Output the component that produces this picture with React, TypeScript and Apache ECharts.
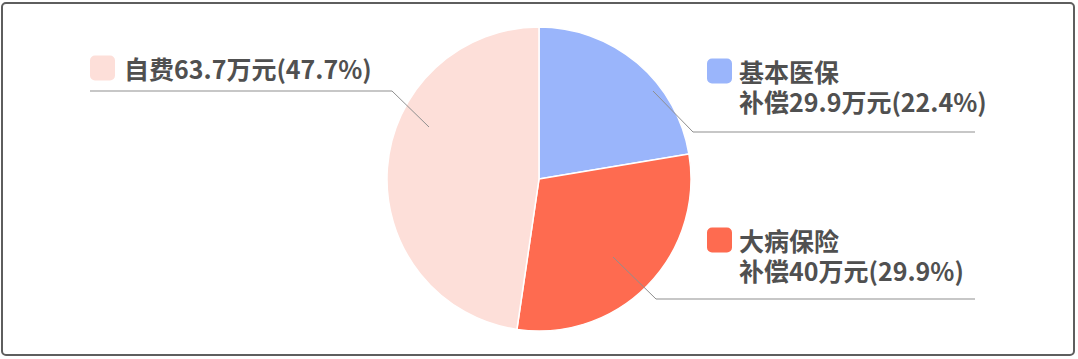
import React, { useEffect, useRef } from 'react';
import * as echarts from 'echarts';

const categories = ['基本医保', '大病保险', '自费'];
const amounts = [29.9, 40, 63.7]; // 万元
const percents = [22.4, 29.9, 47.7];
const colors = ['#9ab5fb', '#fe6b50', '#fddfd9'];

// label placement (top-left of label box) and leader-line points
const labelLayouts = [
  { x: 707, y: 56, gap: 7, line: [[653, 91], [693, 132], [975, 132]] },
  { x: 707, y: 225, gap: 7, line: [[613, 257], [656, 299], [975, 299]] },
  { x: 90, y: 53, gap: 9, line: [[429, 127], [392, 91], [90, 91]] },
];

const FONT = '"Noto Sans CJK SC", "Noto Sans", sans-serif';

export default function App() {
  const ref = useRef<HTMLDivElement>(null);
  useEffect(() => {
    if (!ref.current) return;
    const chart = echarts.init(ref.current, null, { renderer: 'svg' });
    const textStyle = {
      fontSize: 25,
      color: '#505050',
      fontWeight: 'bold',
      fontFamily: FONT,
      lineHeight: 30,
    };
    const data = categories.map((name, i) => {
      const lay = labelLayouts[i];
      const formatter =
        i < 2
          ? `{m|}{g|}{t|${name}}\n{s|}{t|补偿${amounts[i]}万元(${percents[i]}%)}`
          : `{m|}{g|}{t|${name}${amounts[i]}万元(${percents[i]}%)}`;
      return {
        name,
        value: amounts[i],
        itemStyle: { color: colors[i] },
        label: {
          formatter,
          rich: {
            m: { width: 25, height: 25, borderRadius: 5, backgroundColor: colors[i], lineHeight: 30 },
            g: { width: lay.gap, lineHeight: 30 },
            s: { width: 25 + lay.gap, lineHeight: 30 },
            t: textStyle,
          },
        },
      };
    });
    const lines = labelLayouts.map((lay) => ({
      type: 'polyline',
      shape: { points: lay.line },
      style: { fill: 'none', stroke: '#8f8f8f', lineWidth: 1 },
      z: 50,
      silent: true,
    }));
    chart.setOption({
      animation: false,
      backgroundColor: '#ffffff',
      graphic: [
        ...lines,
        {
          type: 'rect',
          shape: { x: 2, y: 3, width: 1072, height: 352, r: 4 },
          style: { fill: 'none', stroke: '#5e5e5e', lineWidth: 2 },
          z: 100,
        },
      ],
      series: [
        {
          type: 'pie',
          center: [539, 179],
          radius: 152,
          startAngle: 90,
          clockwise: true,
          avoidLabelOverlap: false,
          itemStyle: { borderColor: '#ffffff', borderWidth: 1.5 },
          label: {
            show: true,
            position: 'outside',
            fontFamily: FONT,
          },
          labelLine: { show: false },
          labelLayout: (params: any) => {
            const lay = labelLayouts[params.dataIndex];
            return {
              x: lay.x,
              y: lay.y,
              align: 'left',
              verticalAlign: 'top',
              hideOverlap: false,
            };
          },
          emphasis: { disabled: true },
          data,
        },
      ],
    });
    return () => chart.dispose();
  }, []);
  return (
    <div
      ref={ref}
      style={{ position: 'fixed', left: 0, top: 0, width: 1078, height: 359 }}
    />
  );
}
